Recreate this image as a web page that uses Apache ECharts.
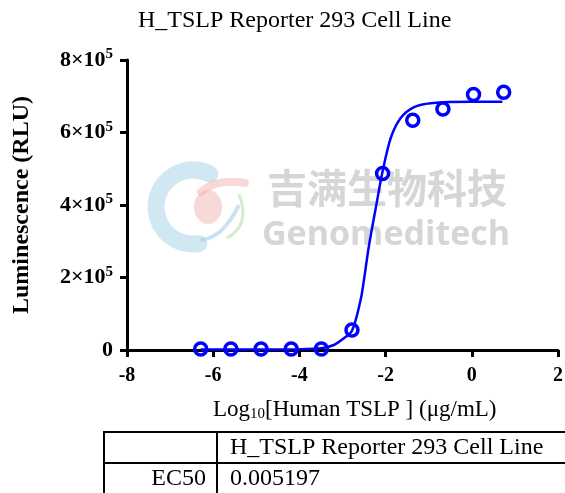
<!DOCTYPE html>
<html>
<head>
<meta charset="utf-8">
<script src="https://cdn.jsdelivr.net/npm/echarts@6/dist/echarts.min.js"></script>
<style>
  html, body { margin: 0; padding: 0; background: #fff; }
  #chart { width: 565px; height: 493px; }
</style>
</head>
<body>
<div id="chart"></div>
<script>
// measured points: log10 dose (µg/mL) and luminescence
const doseLog = [-6.29, -5.59, -4.89, -4.19, -3.49, -2.78, -2.07, -1.37, -0.67, 0.04, 0.74]
const rlu = [3000, 3000, 2500, 2500, 2500, 55000, 487000, 634000, 665000, 705000, 711000]

// fitted curve
const fitX = [-6.29, -5.0, -4.0, -3.5, -3.2, -3.0, -2.78, -2.58, -2.5, -2.39, -2.2, -2.08, -1.88, -1.65, -1.34, -0.95, 0.0, 0.71]
const fitY = [1500, 1500, 2000, 4600, 13800, 29500, 53000, 138000, 195000, 285000, 410000, 487000, 585000, 640000, 670000, 681000, 685000, 685000]

// axis ticks
const xTicks = { min: -8, max: 2, interval: 2 }
const yTicks = { min: 0, max: 800000, interval: 200000 }

// table contents
const tableHeader = 'H_TSLP Reporter 293 Cell Line'
const tableRowLabel = 'EC50'
const tableRowValue = '0.005197'

const serif = '"Liberation Serif", "DejaVu Serif", serif'
const blue = '#0000ff'

const chart = echarts.init(document.getElementById('chart'))

// 水印 logo
const watermark = [
    {
        type: 'arc',
        shape: { cx: 193, cy: 207, r: 37, startAngle: -Math.PI * 0.35, endAngle: Math.PI * 0.45, clockwise: false },
        style: { stroke: 'rgba(150,205,225,0.45)', lineWidth: 17, fill: null, lineCap: 'round' },
        z: 0,
    },
    {
        type: 'ellipse',
        shape: { cx: 208, cy: 207, rx: 14, ry: 17 },
        style: { fill: 'rgba(240,170,170,0.45)' },
        z: 0,
    },
    {
        type: 'bezierCurve',
        shape: { x1: 201, y1: 192, x2: 245, y2: 183, cpx1: 216, cpy1: 178 },
        style: { stroke: 'rgba(240,170,170,0.45)', lineWidth: 8, fill: null, lineCap: 'round' },
        z: 0,
    },
    {
        type: 'bezierCurve',
        shape: { x1: 239, y1: 194, x2: 227, y2: 238, cpx1: 251, cpy1: 225 },
        style: { stroke: 'rgba(170,215,160,0.5)', lineWidth: 3, fill: null },
        z: 0,
    },
    {
        type: 'bezierCurve',
        shape: { x1: 201, y1: 240, x2: 239, y2: 205, cpx1: 223, cpy1: 238 },
        style: { stroke: 'rgba(150,200,225,0.5)', lineWidth: 4, fill: null },
        z: 0,
    },
    {
        type: 'text',
        x: 267, y: 168,
        style: { text: '吉满生物科技', font: 'bold 40px "Noto Sans CJK SC"', fill: '#d6d6d6' },
        z: 0,
    },
    {
        type: 'text',
        x: 262, y: 218,
        style: { text: 'Genomeditech', font: 'bold 34px "Open Sans", "DejaVu Sans", sans-serif', fill: '#d6d6d6' },
        z: 0,
    },
]

// EC50 表格
const table = [
    { type: 'rect', shape: { x: 104, y: 432, width: 470, height: 70 }, style: { fill: null, stroke: '#000', lineWidth: 2 } },
    { type: 'line', shape: { x1: 104, y1: 463, x2: 565, y2: 463 }, style: { stroke: '#000', lineWidth: 2 } },
    { type: 'line', shape: { x1: 217, y1: 432, x2: 217, y2: 493 }, style: { stroke: '#000', lineWidth: 2 } },
    {
        type: 'text', x: 230, y: 448,
        style: { text: tableHeader, font: '24px ' + serif, fill: '#000', verticalAlign: 'middle' },
    },
    {
        type: 'text', x: 206, y: 479,
        style: { text: tableRowLabel, font: '24px ' + serif, fill: '#000', align: 'right', verticalAlign: 'middle' },
    },
    {
        type: 'text', x: 230, y: 479,
        style: { text: tableRowValue, font: '24px ' + serif, fill: '#000', verticalAlign: 'middle' },
    },
    // x 轴标题（带下标）
    {
        type: 'text',
        x: 213, y: 397,
        style: {
            text: '{n|Log}{sub|10}{n|[Human TSLP ] (μg/mL)}',
            rich: {
                n: { fontFamily: serif, fontSize: 23, color: '#000' },
                sub: { fontFamily: serif, fontSize: 15, color: '#000', padding: [10, 0, 0, 0] },
            },
        },
    },
]

chart.setOption({
    backgroundColor: '#fff',
    animation: false,
    title: {
        text: 'H_TSLP Reporter 293 Cell Line',
        left: 133,
        top: 4,
        textStyle: { fontFamily: serif, fontSize: 24, fontWeight: 'normal', color: '#000' },
    },
    grid: { left: 127, right: 7, top: 60, bottom: 143, outerBoundsMode: 'none' },
    xAxis: {
        type: 'value',
        min: xTicks.min,
        max: xTicks.max,
        interval: xTicks.interval,
        axisLine: { onZero: false, lineStyle: { color: '#000', width: 3 } },
        axisTick: { show: true, length: 7, lineStyle: { color: '#000', width: 3 } },
        axisLabel: { fontFamily: serif, fontWeight: 'bold', fontSize: 20, color: '#000', margin: 16 },
        splitLine: { show: false },
    },
    yAxis: {
        type: 'value',
        min: yTicks.min,
        max: yTicks.max,
        interval: yTicks.interval,
        name: 'Luminescence (RLU)',
        nameLocation: 'middle',
        nameGap: 93,
        nameTextStyle: { fontFamily: serif, fontWeight: 'bold', fontSize: 24, color: '#000' },
        axisLine: { show: true, onZero: false, lineStyle: { color: '#000', width: 3 } },
        axisTick: { show: true, length: 7, lineStyle: { color: '#000', width: 3 } },
        axisLabel: {
            margin: 14,
            formatter: (v) => (v === 0 ? '{b|0}' : '{b|' + v / 1e5 + '×10}{s|5}'),
            rich: {
                b: { fontFamily: serif, fontWeight: 'bold', fontSize: 22, color: '#000' },
                s: { fontFamily: serif, fontWeight: 'bold', fontSize: 15, color: '#000', padding: [0, 0, 11, 0] },
            },
        },
        splitLine: { show: false },
    },
    graphic: watermark.concat(table),
    series: [
        {
            type: 'line',
            data: fitX.map((x, i) => [x, fitY[i]]),
            smooth: 0.3,
            showSymbol: false,
            lineStyle: { color: blue, width: 2.5 },
            z: 3,
        },
        {
            type: 'scatter',
            data: doseLog.map((x, i) => [x, rlu[i]]),
            symbol: 'circle',
            symbolSize: 12,
            itemStyle: { color: 'rgba(255,255,255,0)', borderColor: blue, borderWidth: 3.5, opacity: 1 },
            z: 4,
        },
    ],
})
</script>
</body>
</html>
